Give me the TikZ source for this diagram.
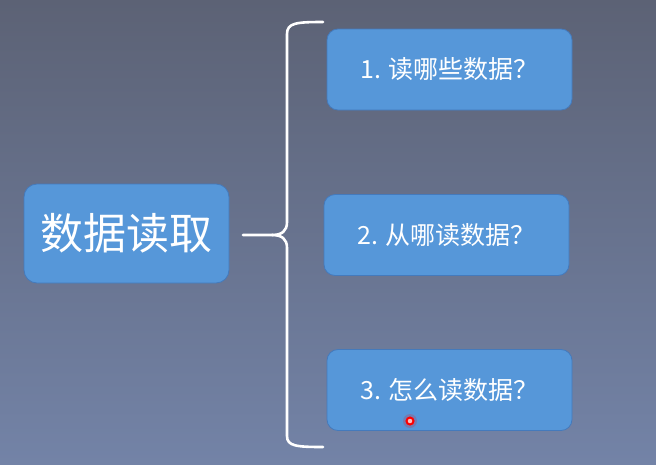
\documentclass[tikz,border=0pt]{standalone}
\usepackage{fontspec}
\setmainfont{Noto Sans CJK SC}
\usetikzlibrary{positioning,calc}
\definecolor{boxblue}{RGB}{86,151,217}
\definecolor{boxedge}{RGB}{68,122,188}
\definecolor{bgtop}{RGB}{92,98,117}
\definecolor{bgbottom}{RGB}{115,131,167}
\tikzset{
  % Define style for the topic box
  topic/.style={
    rectangle,
    rounded corners=13pt,
    draw=boxedge, line width=0.8pt,
    fill=boxblue,
    text=white,
    minimum width=205pt,
    minimum height=99pt,
    font=\fontsize{43}{50}\selectfont},
  % Define style for the question boxes
  question/.style={
    topic,
    rounded corners=11pt,
    minimum width=245pt,
    minimum height=81pt,
    font=\fontsize{25}{30}\selectfont},
  % Define brace style
  brace/.style={
    draw=white,
    line width=2.6pt,
    line cap=round,
    line join=round},
}
\begin{document}
\begin{tikzpicture}[x=1pt, y=-1pt]
  % background
  \useasboundingbox (0,0) rectangle (656,464);
  \shade[top color=bgtop, bottom color=bgbottom] (0,0) rectangle (656,464);
  % nodes
  \node[topic] (read) at (126.5,233.5) {数据读取};
  \node[question] (which) at (449.5,69.5) {1. 读哪些数据？};
  \node[question] (where) at (446.5,235) {2. 从哪读数据？};
  \node[question] (how) at (449.5,390) {3. 怎么读数据？};
  % brace
  \coordinate (btop) at (323,22);
  \coordinate (bbot) at (323,447);
  \coordinate (btip) at (243,235);
  \draw[brace] (btop) .. controls (296,22) and (287,23) .. (287,34)
    -- (287,222) .. controls (287,231) and (282,235) .. (272,235);
  \draw[brace] (btip) -- (272,235) .. controls (282,235) and (287,239) .. (287,248)
    -- (287,436) .. controls (287,446) and (296,447) .. (bbot);
  % pointer
  \fill[red, opacity=.18] (410,421) circle (7pt);
  \node[circle, draw=red, fill=red!25, line width=2pt, inner sep=0pt,
    minimum size=7pt] (dot) at (410,421) {};
\end{tikzpicture}
\end{document}
